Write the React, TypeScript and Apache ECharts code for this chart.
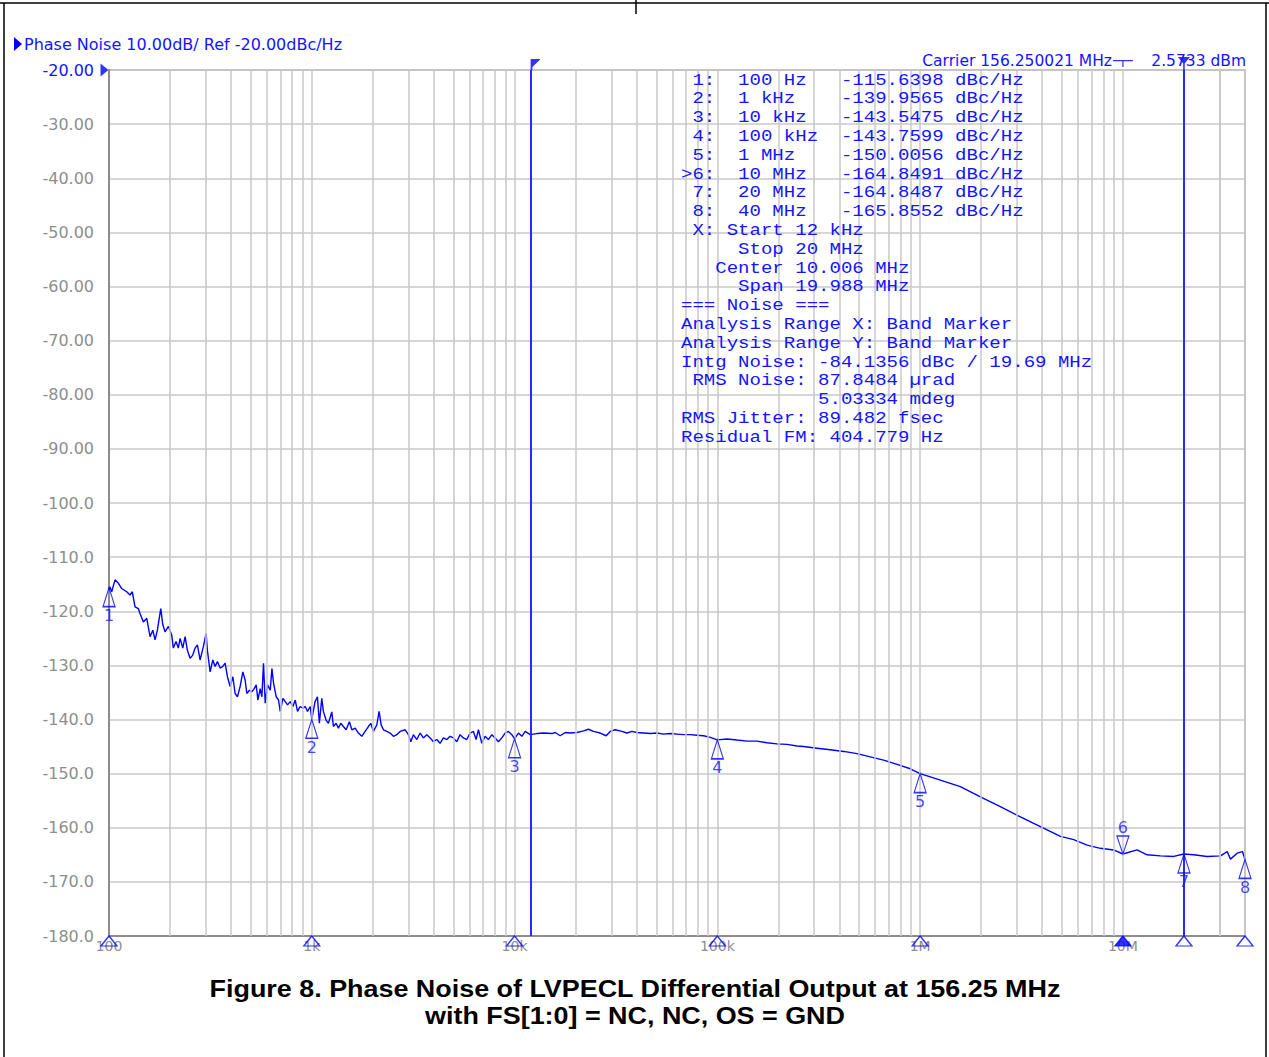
import React, { useEffect, useRef } from 'react';
import * as echarts from 'echarts';

// ---- trace: offset frequency (Hz) and phase noise (dBc/Hz) ----
const FREQ_HZ = [
  100, 101.1, 103.1, 107.1, 111.1, 115.5, 122.3, 126.9, 130.3, 134.4, 139.5, 142.2, 147.7, 153.5, 159.4, 164.4,
  168.7, 173.2, 180.0, 184.2, 189.0, 196.3, 203.9, 207.6, 214.1, 219.7, 224.1, 231.1, 237.3, 243.5, 251.1, 258.9,
  265.8, 272.8, 281.3, 292.1, 301.2, 305.6, 315.3, 325.1, 333.6, 342.5, 353.2, 364.2, 373.8, 383.8, 395.7, 408.0,
  418.8, 429.9, 443.3, 457.1, 469.2, 478.3, 492.7, 506.3, 520.0, 531.9, 542.3, 556.6, 567.5, 578.0, 589.3, 604.9,
  623.8, 636.0, 647.7, 667.8, 685.5, 698.9, 720.7, 739.8, 759.3, 782.9, 807.3, 828.6, 850.5, 875.6, 904.4, 928.4,
  953.0, 982.8, 1000,
  1038, 1066, 1090, 1120, 1141, 1176, 1208, 1255, 1278, 1318, 1353, 1390, 1432, 1477, 1533, 1576, 1636, 1698,
  1765, 1832, 1902, 1954, 2013, 2093, 2148, 2198, 2256, 2344, 2434, 2527, 2626, 2727, 2886, 2996, 3078, 3170,
  3295, 3421, 3552, 3691, 3832, 3978, 4135, 4292, 4457, 4632, 4809, 4993, 5189, 5387, 5593, 5813, 6036, 6266,
  6462, 6633, 6894, 7157, 7430, 7723, 8018, 8324, 8651, 8982, 9325, 9692, 10000,
  10453, 10864, 11280, 11939, 12880, 13880, 15280, 15860, 16790, 17770, 18810, 20290, 21880, 23150, 24500, 26440,
  28300, 29620, 31360, 33830, 35810, 37910, 40120, 43240, 46670, 50350, 54270, 58560, 63190, 68100, 73500, 79330,
  85500, 92260, 100000,
  111500, 124900, 140000, 156800, 175700, 196800, 220500, 247000, 266200, 310000, 360600, 419500, 488400, 568000,
  660700, 769200, 894600, 1000000,
  1123000, 1258000, 1579000, 1982000, 2487000, 3122000, 3631000, 4227000, 4917000, 5718000, 6659000, 7745000,
  9008000, 10000000,
  11750000, 13160000, 15310000, 17810000, 20000000, 22350000, 26030000, 30270000, 32670000, 33910000, 36600000,
  38860000, 40000000,
];
const NOISE_DBC = [
  -116.0, -115.5, -116.4, -114.2, -114.8, -115.8, -116.4, -117.0, -116.4, -119.2, -119.5, -120.4, -122.0, -121.3, -124.7, -123.5,
  -125.3, -123.5, -119.5, -122.5, -123.8, -122.8, -124.4, -126.8, -125.6, -126.8, -125.0, -126.8, -124.7, -127.2, -128.7, -128.1,
  -126.8, -126.2, -129.0, -126.5, -124.1, -127.2, -131.2, -129.0, -130.2, -129.3, -130.5, -130.2, -129.6, -132.1, -133.9, -132.1,
  -135.2, -135.8, -133.9, -131.2, -132.7, -135.2, -134.6, -134.9, -134.3, -133.6, -136.4, -134.3, -135.8, -129.6, -137.0, -133.6,
  -134.6, -130.6, -133.3, -135.8, -136.4, -138.5, -136.1, -136.7, -137.3, -136.7, -137.6, -136.4, -138.5, -137.6, -137.9, -137.6,
  -138.5, -137.6, -139.96,
  -136.7, -135.8, -140.7, -136.1, -138.5, -140.1, -140.7, -138.6, -141.3, -140.7, -141.6, -140.7, -141.3, -141.9, -140.4, -141.9, -141.6, -142.5,
  -143.1, -142.2, -141.3, -140.7, -142.2, -141.0, -138.5, -141.0, -141.9, -142.2, -142.5, -143.1, -142.8, -142.2, -141.9, -142.8, -144.1, -142.8,
  -143.7, -142.5, -143.4, -142.8, -143.4, -144.1, -143.7, -144.4, -143.4, -143.7, -143.1, -143.4, -144.1, -142.8, -143.4, -143.7, -142.5, -142.2,
  -143.7, -141.9, -144.4, -143.1, -143.7, -142.8, -143.4, -144.1, -143.4, -142.5, -142.2, -142.8, -143.55,
  -142.5, -143.1, -142.2, -142.8, -142.6, -142.5, -142.6, -142.4, -143.0, -142.4, -142.5, -142.4, -142.1, -141.8, -142.2, -142.5,
  -143.0, -142.2, -141.9, -142.2, -142.5, -142.2, -142.4, -142.5, -142.6, -142.5, -142.7, -142.6, -142.7, -142.8, -142.8, -142.9,
  -143.0, -143.3, -143.76,
  -143.6, -143.8, -144.0, -144.0, -144.3, -144.5, -144.6, -144.9, -145.0, -145.3, -145.6, -145.9, -146.3, -146.9,
  -147.5, -148.3, -149.1, -150.0,
  -150.6, -151.2, -152.4, -154.3, -156.1, -158.0, -159.2, -160.4, -161.6, -162.2, -163.2, -163.8,
  -164.1, -164.85,
  -164.1, -165.0, -165.2, -165.3, -164.85, -165.0, -165.3, -165.2, -164.4, -165.8, -164.7,
  -164.4, -165.86,
];

// ---- markers ----
const MARKER_NAMES = ['1', '2', '3', '4', '5', '6', '7', '8'];
const MARKER_FREQ = [100, 1e3, 1e4, 1e5, 1e6, 1e7, 2e7, 4e7];
const MARKER_DBC = [-115.6398, -139.9565, -143.5475, -143.7599, -150.0056, -164.8491, -164.8487, -165.8552];
const ACTIVE_MARKER = '6';
const BAND_START_HZ = 12000;
const BAND_STOP_HZ = 20000000;
const REF_LEVEL = -20;
const CARRIER_MARK_HZ = 1e7;

// ---- axes ----
const X_MIN = 100;
const X_MAX = 4e7;
const Y_MIN = -180;
const Y_MAX = -20;
const Y_STEP = 10;
const X_DECADE_LABELS: Record<number, string> = { 2: '100', 3: '1k', 4: '10k', 5: '100k', 6: '1M', 7: '10M' };
const GRID_DECADES = [100, 1e3, 1e4, 1e5, 1e6, 1e7];
const GRID_MULTIPLES = [1, 2, 3, 4, 5, 6, 7, 8, 9];

// ---- texts ----
const HEADER = 'Phase Noise 10.00dB/ Ref -20.00dBc/Hz';
const CARRIER_TEXT = 'Carrier 156.250021 MHz';
const CARRIER_POWER = '2.5733 dBm';
const CAPTION_1 = 'Figure 8. Phase Noise of LVPECL Differential Output at 156.25 MHz';
const CAPTION_2 = 'with FS[1:0] = NC, NC, OS = GND';
const TABLE_LINES = [
  ' 1:  100 Hz   -115.6398 dBc/Hz',
  ' 2:  1 kHz    -139.9565 dBc/Hz',
  ' 3:  10 kHz   -143.5475 dBc/Hz',
  ' 4:  100 kHz  -143.7599 dBc/Hz',
  ' 5:  1 MHz    -150.0056 dBc/Hz',
  '>6:  10 MHz   -164.8491 dBc/Hz',
  ' 7:  20 MHz   -164.8487 dBc/Hz',
  ' 8:  40 MHz   -165.8552 dBc/Hz',
  ' X: Start 12 kHz',
  '     Stop 20 MHz',
  '   Center 10.006 MHz',
  '     Span 19.988 MHz',
  '=== Noise ===',
  'Analysis Range X: Band Marker',
  'Analysis Range Y: Band Marker',
  'Intg Noise: -84.1356 dBc / 19.69 MHz',
  ' RMS Noise: 87.8484 µrad',
  '            5.03334 mdeg',
  'RMS Jitter: 89.482 fsec',
  'Residual FM: 404.779 Hz',
];

const BLUE = '#0000ff';
const TEXT_BLUE = '#1414ff';
const GREY_TEXT = '#8e8e8e';
const GRID_GREY = '#c8c8c8';
const UI_FONT = '"DejaVu Sans", "Noto Sans", sans-serif';
const MONO_FONT = '"Liberation Mono", "DejaVu Sans Mono", monospace';
const CAPTION_FONT = 'bold 23px "Liberation Sans", Arial, sans-serif';

// keep column alignment: leading spaces and runs of spaces become no-break spaces
const keepSpaces = (s: string) =>
  s.replace(/^ +/, (m) => '\u00A0'.repeat(m.length)).replace(/ {2,}/g, (m) => '\u00A0'.repeat(m.length));

export default function App() {
  const ref = useRef<HTMLDivElement>(null);

  useEffect(() => {
    document.body.style.margin = '0';
    if (!ref.current) return;
    const chart = echarts.init(ref.current, undefined, { renderer: 'svg' });

    const trace = FREQ_HZ.map((f, i) => [f, NOISE_DBC[i]]);
    const gridX: number[] = [];
    GRID_DECADES.forEach((d) => GRID_MULTIPLES.forEach((m) => {
      const v = d * m;
      if (v > X_MIN && v <= X_MAX) gridX.push(v);
    }));
    [2e7, 3e7].forEach((v) => gridX.push(v));

    const markerItems = MARKER_NAMES.map((n, i) => ({ name: n, value: [MARKER_FREQ[i], MARKER_DBC[i]] }));

    const tableLeft = 681;
    const rowTop = 80;
    const rowStep = 18.8;
    const tableTexts = TABLE_LINES.map((line, r) => ({
      type: 'text',
      x: tableLeft,
      y: rowTop + r * rowStep,
      scaleX: 1.19,
      z: 20,
      style: {
        text: keepSpaces(line),
        fill: TEXT_BLUE,
        font: `16px ${MONO_FONT}`,
        textAlign: 'left',
        textVerticalAlign: 'middle',
      },
    }));

    const option: any = {
      animation: false,
      backgroundColor: '#ffffff',
      grid: {
        left: 109, top: 70, width: 1136, height: 866,
        show: true, borderColor: '#a4a4a4', borderWidth: 1.5, backgroundColor: 'transparent',
      },
      xAxis: {
        type: 'log',
        logBase: 10,
        min: X_MIN,
        max: X_MAX,
        axisLine: { show: true, onZero: false, lineStyle: { color: '#8c8c8c', width: 2 } },
        axisTick: { show: false },
        splitLine: { show: false },
        axisLabel: {
          margin: 3,
          color: GREY_TEXT,
          fontFamily: UI_FONT,
          fontSize: 14,
          showMinLabel: true,
          showMaxLabel: true,
          formatter: (v: number) => {
            const e = Math.log10(v);
            const r = Math.round(e);
            if (Math.abs(e - r) > 1e-6) return '';
            return X_DECADE_LABELS[r] ?? '';
          },
        },
      },
      yAxis: {
        type: 'value',
        min: Y_MIN,
        max: Y_MAX,
        interval: Y_STEP,
        axisLine: { show: true, onZero: false, lineStyle: { color: '#8c8c8c', width: 2 } },
        axisTick: { show: false },
        splitLine: { show: true, lineStyle: { color: GRID_GREY, width: 1.5 } },
        axisLabel: {
          margin: 15,
          fontFamily: UI_FONT,
          fontSize: 16,
          color: (v: any) => (Number(v) === REF_LEVEL ? TEXT_BLUE : GREY_TEXT),
          formatter: (v: number) => (v > -100 ? v.toFixed(2) : v.toFixed(1)),
        },
      },
      series: [
        {
          name: 'grid',
          type: 'line',
          data: [[X_MIN, Y_MIN]],
          symbol: 'none',
          lineStyle: { width: 0 },
          silent: true,
          z: 1,
          markLine: {
            silent: true,
            symbol: ['none', 'none'],
            label: { show: false },
            emphasis: { disabled: true },
            lineStyle: { color: GRID_GREY, width: 1.5, type: 'solid' },
            data: gridX.map((v) => ({ xAxis: v })),
          },
        },
        {
          name: 'Phase Noise',
          type: 'line',
          data: trace,
          showSymbol: false,
          symbol: 'none',
          lineStyle: { color: BLUE, width: 1.4 },
          z: 3,
          markLine: {
            silent: true,
            symbol: ['none', 'none'],
            label: { show: false },
            emphasis: { disabled: true },
            lineStyle: { color: '#2a2aff', width: 2, type: 'solid' },
            data: [{ xAxis: BAND_START_HZ }, { xAxis: BAND_STOP_HZ }],
          },
        },
        {
          name: 'markers',
          type: 'scatter',
          clip: false,
          z: 5,
          data: markerItems.filter((m) => m.name !== ACTIVE_MARKER),
          symbol: 'path://M6,0L0,18L12,18Z',
          symbolSize: [12, 19],
          symbolOffset: [0, 9.5],
          itemStyle: { color: 'rgba(255,255,255,0)', borderColor: BLUE, borderWidth: 1.3 },
          label: {
            show: true, position: 'bottom', distance: 0, formatter: '{b}',
            color: TEXT_BLUE, fontFamily: UI_FONT, fontSize: 16,
          },
        },
        {
          name: 'active marker',
          type: 'scatter',
          clip: false,
          z: 5,
          data: markerItems.filter((m) => m.name === ACTIVE_MARKER),
          symbol: 'path://M0,0L12,0L6,18Z',
          symbolSize: [12, 18],
          symbolOffset: [0, -9],
          itemStyle: { color: 'rgba(255,255,255,0)', borderColor: BLUE, borderWidth: 1.3 },
          label: {
            show: true, position: 'top', distance: 0, formatter: '{b}',
            color: TEXT_BLUE, fontFamily: UI_FONT, fontSize: 16,
          },
        },
        {
          name: 'axis markers',
          type: 'scatter',
          clip: false,
          z: 6,
          data: MARKER_NAMES.map((n, i) => ({
            name: n,
            value: [MARKER_FREQ[i], Y_MIN],
            itemStyle: n === ACTIVE_MARKER ? { color: BLUE } : undefined,
          })),
          symbol: 'triangle',
          symbolSize: [16, 10],
          symbolOffset: [0, 5],
          itemStyle: { color: 'rgba(255,255,255,0)', borderColor: BLUE, borderWidth: 1.3 },
        },
        {
          name: 'top flags',
          type: 'scatter',
          clip: false,
          z: 6,
          itemStyle: { color: BLUE },
          data: [
            {
              value: [BAND_START_HZ, Y_MAX],
              symbol: 'path://M0,0L10,0L1.8,8L1.8,11L0,11Z',
              symbolSize: [10, 11],
              symbolOffset: [5, -5.5],
            },
            {
              value: [BAND_STOP_HZ, Y_MAX],
              symbol: 'path://M0,0L12,0L6.8,6.5L6.8,13L5.2,13L5.2,6.5Z',
              symbolSize: [12, 13],
              symbolOffset: [0, -6.5],
            },
            {
              value: [CARRIER_MARK_HZ, Y_MAX],
              symbol: 'path://M0,0L20,0L20,1.2L10.6,1.2L10.6,7L9.4,7L9.4,1.2L0,1.2Z',
              symbolSize: [20, 7],
              symbolOffset: [0, -6.5],
            },
            {
              value: [X_MIN, REF_LEVEL],
              symbol: 'path://M0,0L8,6.5L0,13Z',
              symbolSize: [8, 13],
              symbolOffset: [-4.5, 0],
            },
          ],
        },
      ],
      graphic: [
        { type: 'line', z: 30, shape: { x1: 0, y1: 3, x2: 1269, y2: 3 }, style: { stroke: '#000', lineWidth: 1.5 } },
        { type: 'line', z: 30, shape: { x1: 4, y1: 3, x2: 4, y2: 1057 }, style: { stroke: '#000', lineWidth: 1.5 } },
        { type: 'line', z: 30, shape: { x1: 1266, y1: 3, x2: 1266, y2: 1057 }, style: { stroke: '#000', lineWidth: 1.5 } },
        { type: 'line', z: 30, shape: { x1: 636, y1: 0, x2: 636, y2: 14 }, style: { stroke: '#000', lineWidth: 1.5 } },
        { type: 'polygon', z: 20, shape: { points: [[14, 37], [22, 44], [14, 51]] }, style: { fill: BLUE } },
        {
          type: 'text', z: 20, x: 24, y: 44,
          style: { text: HEADER, fill: TEXT_BLUE, font: `16px ${UI_FONT}`, textAlign: 'left', textVerticalAlign: 'middle' },
        },
        {
          type: 'text', z: 20, x: 1112, y: 61,
          style: { text: CARRIER_TEXT, fill: TEXT_BLUE, font: `15.5px ${UI_FONT}`, textAlign: 'right', textVerticalAlign: 'middle' },
        },
        {
          type: 'text', z: 20, x: 1246, y: 61,
          style: { text: CARRIER_POWER, fill: TEXT_BLUE, font: `15.5px ${UI_FONT}`, textAlign: 'right', textVerticalAlign: 'middle' },
        },
        ...tableTexts,
        {
          type: 'text', z: 20, x: 635, y: 989, scaleX: 1.17,
          style: { text: CAPTION_1, fill: '#000', font: CAPTION_FONT, textAlign: 'center', textVerticalAlign: 'middle' },
        },
        {
          type: 'text', z: 20, x: 635, y: 1016, scaleX: 1.17,
          style: { text: CAPTION_2, fill: '#000', font: CAPTION_FONT, textAlign: 'center', textVerticalAlign: 'middle' },
        },
      ],
    };

    chart.setOption(option);
    return () => chart.dispose();
  }, []);

  return <div ref={ref} style={{ width: 1269, height: 1057, background: '#fff' }} />;
}
